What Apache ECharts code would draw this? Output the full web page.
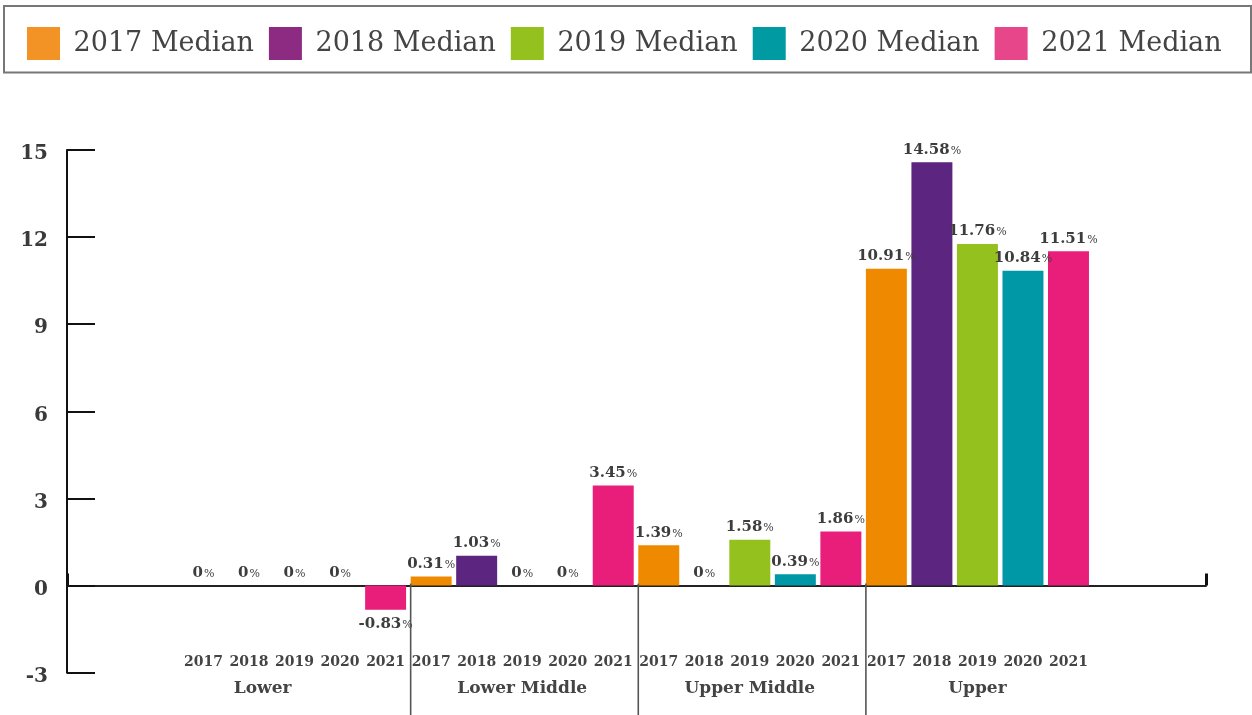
<!DOCTYPE html>
<html><head><meta charset="utf-8">
<script src="https://cdn.jsdelivr.net/npm/echarts@6/dist/echarts.min.js"></script>
<style>html,body{margin:0;padding:0;background:#fff}#c{width:1252px;height:715px}</style>
</head><body><div id="c"></div>
<script>
const groups = ['Lower', 'Lower Middle', 'Upper Middle', 'Upper'];
const years = ['2017', '2018', '2019', '2020', '2021'];
const seriesNames = ['2017 Median', '2018 Median', '2019 Median', '2020 Median', '2021 Median'];
const median2017 = [0, 0.31, 1.39, 10.91];
const median2018 = [0, 1.03, 0, 14.58];
const median2019 = [0, 0, 1.58, 11.76];
const median2020 = [0, 0, 0.39, 10.84];
const median2021 = [-0.83, 3.45, 1.86, 11.51];
const yTicks = [-3, 0, 3, 6, 9, 12, 15];

const barColors = ['#EF8A00', '#5B2580', '#95C11F', '#0097A6', '#E91E7B'];
const legendColors = ['#F39325', '#8D2B83', '#95C11F', '#009AA3', '#E8468A'];
const FONT = 'DejaVu Serif';
const TXT = '#3d3d3d';

const allValues = [median2017, median2018, median2019, median2020, median2021];
const yearLabels = [];
groups.forEach(() => years.forEach(y => yearLabels.push(y)));

const yMin = yTicks[0], yMax = yTicks[yTicks.length - 1], yStep = yTicks[1] - yTicks[0];

const barSeries = seriesNames.map((name, s) => {
  const data = yearLabels.map(() => '-');
  groups.forEach((g, gi) => {
    const v = allValues[s][gi];
    data[gi * years.length + s] = v < 0
      ? { value: v, label: { position: 'bottom', distance: 7 } }
      : v;
  });
  return {
    name: name,
    type: 'bar',
    xAxisIndex: 1,
    yAxisIndex: 1,
    barWidth: '90%',
    barGap: '-100%',
    itemStyle: { color: barColors[s] },
    label: {
      show: true,
      position: 'top',
      distance: 5,
      formatter: p => '{v|' + p.value + '}{p|%}',
      rich: {
        v: { fontFamily: FONT, fontWeight: 'bold', fontSize: 15, color: TXT },
        p: { fontFamily: FONT, fontWeight: 'normal', fontSize: 11, color: TXT, padding: [2, 0, 0, 1] }
      }
    },
    data: data
  };
});

const chart = echarts.init(document.getElementById('c'), null, { renderer: 'canvas' });
chart.setOption({
  animation: false,
  backgroundColor: '#fff',
  legend: {
    left: 27, top: 27, padding: 0,
    itemWidth: 33, itemHeight: 33, itemGap: 15,
    icon: 'rect', selectedMode: false,
    formatter: n => ' ' + n,
    textStyle: { fontFamily: FONT, fontSize: 27, color: '#444' },
    data: seriesNames.map((n, i) => ({ name: n, itemStyle: { color: legendColors[i] } }))
  },
  grid: [
    { left: 67, right: 46, top: 150, bottom: 42.3, containLabel: false, outerBoundsMode: 'none' },
    { left: 180.75, right: 160.75, top: 150, bottom: 42.3, containLabel: false, outerBoundsMode: 'none' }
  ],
  xAxis: [
    {
      type: 'value', gridIndex: 0, min: 0, max: 1, interval: 1, position: 'bottom',
      axisLine: { show: true, onZero: true, lineStyle: { color: '#222', width: 2 } },
      axisTick: { show: true, inside: true, length: 12, lineStyle: { color: '#111', width: 3 } },
      axisLabel: { show: false }, splitLine: { show: false }
    },
    {
      type: 'category', gridIndex: 1, data: yearLabels, position: 'bottom',
      axisLine: { show: false, onZero: false },
      axisTick: { show: false },
      axisLabel: { interval: 0, margin: -17.5, fontFamily: FONT, fontWeight: 'bold', fontSize: 14, color: '#444' }
    },
    {
      type: 'category', gridIndex: 1, data: groups, position: 'bottom',
      axisLine: { show: false, onZero: false },
      axisTick: { show: false },
      axisLabel: {
        interval: 0, margin: 7,
        formatter: (v, i) => i === 0 ? '{l|' + v + '}' : '{n|' + v + '}',
        rich: {
          l: { fontFamily: FONT, fontWeight: 'bold', fontSize: 17, color: '#444', padding: [0, 64, 0, 0] },
          n: { fontFamily: FONT, fontWeight: 'bold', fontSize: 17, color: '#444' }
        }
      }
    }
  ],
  yAxis: [
    {
      type: 'value', gridIndex: 0, min: yMin, max: yMax, interval: yStep,
      axisLine: { show: true, lineStyle: { color: '#111', width: 2 } },
      axisTick: { show: true, inside: true, length: 28, lineStyle: { color: '#111', width: 2 } },
      axisLabel: {
        margin: 19,
        formatter: v => '{a|' + v + '}',
        rich: { a: { fontFamily: FONT, fontWeight: 'bold', fontSize: 20, color: '#3a3a3a', padding: [8, 0, 0, 0] } }
      },
      splitLine: { show: false }
    },
    {
      type: 'value', gridIndex: 1, min: yMin, max: yMax, interval: yStep,
      axisLine: { show: false }, axisTick: { show: false }, axisLabel: { show: false }, splitLine: { show: false }
    }
  ],
  series: barSeries
});

// group separators at the left edge of each group's first bar
const sepLines = [];
const y0 = chart.convertToPixel({ yAxisIndex: 1 }, 0);
for (let g = 1; g < groups.length; g++) {
  const idx = g * years.length;
  const xa = chart.convertToPixel({ xAxisIndex: 1 }, idx);
  const xb = chart.convertToPixel({ xAxisIndex: 1 }, idx - 1);
  const x = xa - (xa - xb) * 0.45;
  sepLines.push({ type: 'line', shape: { x1: x, y1: y0 - 2, x2: x, y2: 715 }, style: { stroke: '#555', lineWidth: 1.6 }, z: 10 });
}
chart.setOption({
  graphic: [
    { type: 'rect', shape: { x: 4, y: 6, width: 1247, height: 66.5 }, style: { fill: 'none', stroke: '#777', lineWidth: 2 } }
  ].concat(sepLines)
});
</script></body></html>
